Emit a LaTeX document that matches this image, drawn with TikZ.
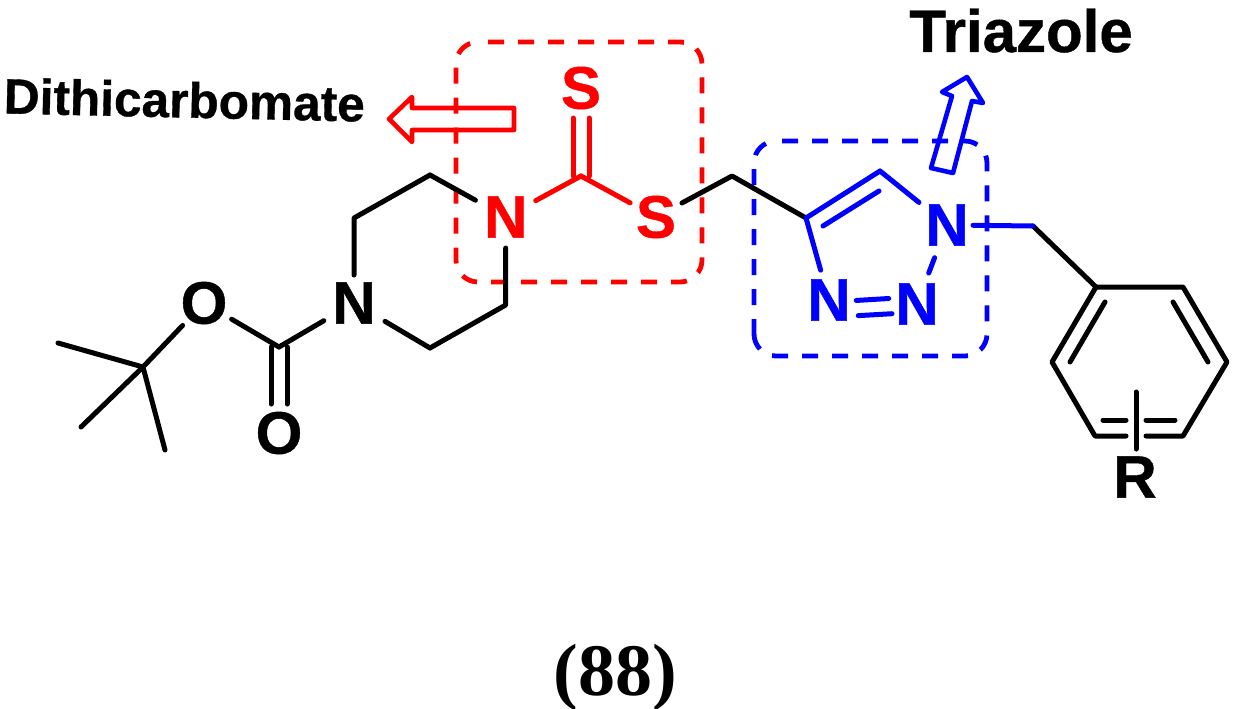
\documentclass[tikz,border=0pt]{standalone}
\usepackage{fontspec}
\setmainfont[BoldFeatures={FakeBold=0.7}]{Liberation Sans}
\newfontfamily\timesfont{Liberation Serif Bold}
\tikzset{
  atom/.style={inner sep=0pt,font=\fontsize{60}{60}\selectfont\bfseries},
  bond/.style={line width=5pt,line cap=round,line join=round,draw=black},
  redbond/.style={bond,draw=red},
  bluebond/.style={bond,draw=blue},
  groupbox/.style={line width=4.8pt,rounded corners=22pt,dash pattern=on 16pt off 14pt},
  callout/.style={line width=4.6pt,line join=round,line cap=round},
  sl/.style={shorten <=#1},
  el/.style={shorten >=#1},
}
\begin{document}
\begin{tikzpicture}[x=1pt,y=-1pt]
\useasboundingbox (0,0) rectangle (1234,709);
% group boxes
\draw[groupbox,red] (488,42) -- (702,42) -- (702,282) -- (456,282) -- (456,42) -- (478,42);
\draw[groupbox,blue] (782,141) -- (987,141) -- (987,356) -- (754,356) -- (754,340);
\draw[groupbox,blue] (754,335) -- (754,141) -- (776,141);
% callout arrows
\draw[callout,red] (389,119) -- (412,97) -- (412,108) -- (514,108) -- (514,130) -- (412,130) -- (412,142) -- cycle;
\draw[callout,blue] (931,168) -- (953,173) -- (972,101) -- (983,103) -- (967,77) -- (942,92) -- (952,96) -- cycle;
% atoms
\node[atom] (Nb) at (354,303) {N};
\node[atom] (Oe) at (204,303) {O};
\node[atom] (Oc) at (279,433) {O};
\node[atom,text=red] (St) at (581,88) {S};
\node[atom,text=red] (Nr) at (505.7,217) {N};
\node[atom,text=red] (Sr) at (656,217) {S};
\node[atom,text=blue] (N1) at (947,225) {N};
\node[atom,text=blue] (N3) at (829,300) {N};
\node[atom,text=blue] (N2) at (917,304) {N};
\node[atom] (R) at (1135,477) {R};
% skeleton vertices
\coordinate (Cq) at (143,367);
\coordinate (Me1) at (58,343);
\coordinate (Me2) at (81,427);
\coordinate (Me3) at (165,450);
\coordinate (Cc) at (279,347);
\coordinate (Pa) at (354,218);
\coordinate (Pb) at (430,175);
\coordinate (Pc) at (505.7,305);
\coordinate (Pd) at (430,348);
\coordinate (Cs) at (581,176);
\coordinate (Ch) at (732,176);
\coordinate (C4) at (806,218);
\coordinate (C5) at (880,171);
\coordinate (C4i) at (823,226);
\coordinate (C5i) at (879,191);
\coordinate (Cb) at (1033,226);
\coordinate (B1) at (1096,287);
\coordinate (B2) at (1183,287);
\coordinate (B3) at (1227,362);
\coordinate (B4) at (1183,436);
\coordinate (B5) at (1095,436);
\coordinate (B6) at (1052,362);
\coordinate (I1a) at (1105,302);
\coordinate (I1b) at (1070,362);
\coordinate (I2a) at (1173,302);
\coordinate (I2b) at (1208,362);
\coordinate (I3a) at (1103,420);
\coordinate (I3b) at (1126,420);
\coordinate (I4a) at (1146,420);
\coordinate (I4b) at (1175,420);
\coordinate (B5m) at (1126,436);
\coordinate (B4m) at (1146,436);
\coordinate (Rt) at (1136,392);
\coordinate (Rb) at (1136,449);
% black bonds
\draw[bond] (Me1) -- (Cq);
\draw[bond] (Me2) -- (Cq);
\draw[bond] (Me3) -- (Cq);
\draw[bond,el=31pt] (Cq) -- (Oe.center);
\draw[bond,sl=32pt] (Oe.center) -- (Cc);
\draw[bond,el=35pt] (Cc) -- (Nb.center);
\draw[bond,sl=29pt] ([xshift=-8pt]Oc.center) -- ([xshift=-8pt]Cc);
\draw[bond,sl=29pt] ([xshift=8pt]Oc.center) -- ([xshift=8pt]Cc);
\draw[bond,sl=28pt] (Nb.center) -- (Pa) -- (Pb);
\draw[bond,sl=0pt,el=34.6pt] (Pb) -- (Nr.center);
\draw[bond,sl=31pt] (Nr.center) -- (Pc) -- (Pd);
\draw[bond,el=36pt] (Pd) -- (Nb.center);
\draw[bond,sl=29.5pt] (Sr.center) -- (Ch) -- (C4);
\draw[bond] (Cb) -- (B1) -- (B2) -- (B3) -- (B4) -- (B4m);
\draw[bond] (B1) -- (B6) -- (B5) -- (B5m);
\draw[bond] (I1a) -- (I1b);
\draw[bond] (I2a) -- (I2b);
\draw[bond] (I3a) -- (I3b);
\draw[bond] (I4a) -- (I4b);
\draw[bond] (Rt) -- (Rb);
% red bonds
\draw[redbond,sl=34.2pt] (Nr.center) -- (Cs);
\draw[redbond,el=29.5pt] (Cs) -- (Sr.center);
\draw[redbond,sl=30pt] ([xshift=-8pt]St.center) -- ([xshift=-8pt]Cs);
\draw[redbond,sl=30pt] ([xshift=8pt]St.center) -- ([xshift=8pt]Cs);
% blue bonds
\draw[bluebond] (C4) -- (C5);
\draw[bluebond] (C4i) -- (C5i);
\draw[bluebond,el=36pt] (C5) -- (N1.center);
\draw[bluebond,el=31pt] (C4) -- (N3.center);
\draw[bluebond,sl=26pt] (N1.center) -- (Cb);
\draw[bluebond,sl=33pt,shorten >=35pt] (N2.center) -- (N1.center);
\draw[bluebond,sl=29.3pt,shorten >=25pt] ([yshift=-17.3pt]N3.center) -- ([yshift=-8.3pt]N2.center);
\draw[bluebond,sl=27.3pt,shorten >=28.3pt] ([yshift=-2.1pt]N3.center) -- ([yshift=7.2pt]N2.center);
% labels
\node[anchor=base,inner sep=0pt,rotate=-1.3,font=\fontsize{49.6}{49.6}\selectfont\bfseries] (lblD) at (184,117.5) {Dithicarbomate};
\node[anchor=base,inner sep=0pt,font=\fontsize{60}{60}\selectfont\bfseries] (lblT) at (1021,52) {Triazole};
\node[anchor=base,inner sep=0pt,font=\fontsize{74}{74}\selectfont\timesfont] (lbl88) at (615,695) {(88)};
\end{tikzpicture}
\end{document}
